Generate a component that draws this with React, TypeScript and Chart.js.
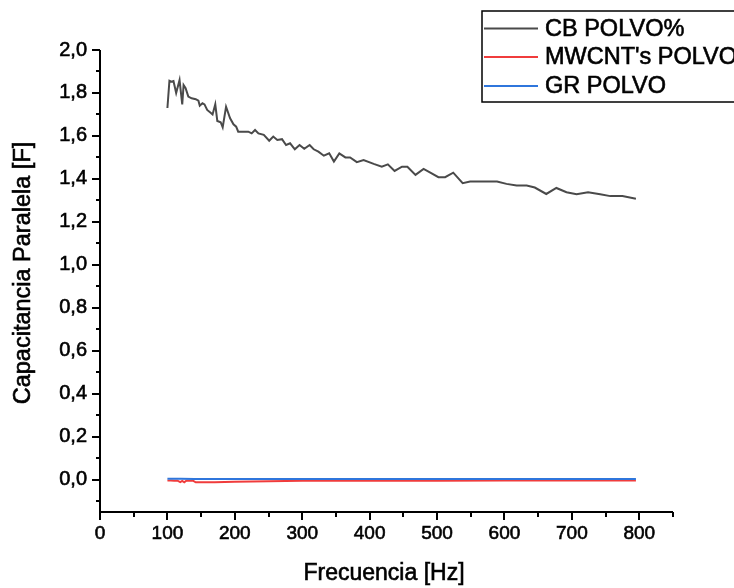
import React, { useEffect, useRef } from "react";
import { Chart, registerables } from "chart.js";

Chart.register(...registerables);

// ---- Data ----
const cbFreq = [
  100, 103, 106, 109, 113, 118, 122, 124, 127, 131, 136, 142, 146, 148, 152, 155, 159, 165, 167, 171,
  174, 179, 182, 187, 193, 198, 202, 205, 220, 225, 230, 235, 243, 251, 257, 263, 270, 276, 282, 289,
  296, 303, 311, 317, 324, 332, 340, 347, 355, 364, 371, 381, 391, 406, 418, 427, 437, 448, 456, 468,
  480, 490, 502, 512, 524, 538, 549, 589, 603, 618, 633, 645, 662, 677, 692, 707, 724, 742, 757, 775, 795,
];
const cbCap = [
  1.73, 1.857, 1.853, 1.856, 1.8, 1.86, 1.747, 1.837, 1.822, 1.783, 1.775, 1.771, 1.764, 1.741, 1.752, 1.747, 1.721, 1.706, 1.7, 1.747,
  1.67, 1.664, 1.64, 1.736, 1.682, 1.654, 1.643, 1.62, 1.62, 1.612, 1.628, 1.612, 1.605, 1.578, 1.597, 1.581, 1.585, 1.558, 1.566, 1.538,
  1.558, 1.54, 1.558, 1.538, 1.527, 1.508, 1.519, 1.481, 1.519, 1.5, 1.5, 1.478, 1.488, 1.47, 1.457, 1.468, 1.437, 1.457, 1.457, 1.419,
  1.447, 1.429, 1.408, 1.408, 1.429, 1.38, 1.388, 1.388, 1.377, 1.369, 1.369, 1.36, 1.33, 1.358, 1.338, 1.329, 1.338, 1.329, 1.32, 1.32, 1.308,
];

const mwFreq = [100, 105, 110, 115, 119, 122, 125, 128, 133, 138, 142, 150, 170, 200, 250, 300, 400, 500, 600, 700, 795];
const mwCap = [-0.004, -0.003, -0.004, -0.004, -0.011, -0.005, -0.012, -0.004, -0.004, -0.004, -0.012, -0.012, -0.011, -0.009, -0.007, -0.005, -0.004, -0.004, -0.003, -0.003, -0.003];

const grFreq = [100, 120, 140, 200, 300, 400, 500, 600, 700, 795];
const grCap = [0.005, 0.005, 0.004, 0.004, 0.003, 0.003, 0.003, 0.003, 0.003, 0.003];

const seriesNames = ["CB POLVO%", "MWCNT's POLVO", "GR POLVO"];
const seriesColors = ["#4a4a4a", "#f03c3c", "#2f76dc"];

const xTickValues = [0, 100, 200, 300, 400, 500, 600, 700, 800];
const yTickValues = [0, 0.2, 0.4, 0.6, 0.8, 1.0, 1.2, 1.4, 1.6, 1.8, 2.0];

const xTitle = "Frecuencia [Hz]";
const yTitle = "Capacitancia Paralela [F]";

const FONT = "'Liberation Sans', Arial, sans-serif";
const TEXT_STROKE = 0.6;

const toPoints = (xs: number[], ys: number[]) => xs.map((x, i) => ({ x, y: ys[i] }));

function heavyText(ctx: CanvasRenderingContext2D, s: string, x: number, y: number) {
  ctx.fillText(s, x, y);
  ctx.lineWidth = TEXT_STROKE;
  ctx.strokeStyle = "#000";
  ctx.strokeText(s, x, y);
}

const decorPlugin = {
  id: "decor",
  afterDraw(chart: any) {
    const ctx = chart.ctx as CanvasRenderingContext2D;
    const xs = chart.scales.x;
    const ys = chart.scales.y;
    const { left, right, top, bottom } = chart.chartArea;
    ctx.save();
    ctx.strokeStyle = "#000";
    ctx.fillStyle = "#000";
    // axis lines
    ctx.lineWidth = 2;
    ctx.beginPath();
    ctx.moveTo(left, top);
    ctx.lineTo(left, bottom + 1);
    ctx.moveTo(left - 1, bottom);
    ctx.lineTo(right, bottom);
    ctx.stroke();
    // y ticks
    for (let i = -1; i <= 20; i++) {
      const v = i / 10;
      const py = Math.round(ys.getPixelForValue(v));
      const len = i % 2 === 0 ? 8 : 4;
      ctx.beginPath();
      ctx.moveTo(left, py);
      ctx.lineTo(left - len, py);
      ctx.stroke();
    }
    // x ticks
    for (let v = 0; v <= 850; v += 50) {
      const px = Math.round(xs.getPixelForValue(v));
      const len = v % 100 === 0 ? 8 : 5;
      ctx.beginPath();
      ctx.moveTo(px, bottom);
      ctx.lineTo(px, bottom + len);
      ctx.stroke();
    }
    // titles
    ctx.textAlign = "center";
    ctx.textBaseline = "middle";
    ctx.font = `23px ${FONT}`;
    heavyText(ctx, xTitle, 384, 574);
    ctx.save();
    ctx.translate(24, 273);
    ctx.rotate(-Math.PI / 2);
    ctx.font = `23.5px ${FONT}`;
    heavyText(ctx, yTitle, 0, 0);
    ctx.restore();
    // legend
    ctx.lineWidth = 1.5;
    ctx.strokeStyle = "#000";
    ctx.strokeRect(482, 11, 300, 91);
    ctx.font = `23.5px ${FONT}`;
    ctx.textAlign = "left";
    ctx.textBaseline = "middle";
    const rowsY = [28.5, 57, 86];
    chart.data.datasets.forEach((ds: any, i: number) => {
      ctx.strokeStyle = ds.borderColor;
      ctx.lineWidth = 2;
      ctx.beginPath();
      ctx.moveTo(484, rowsY[i]);
      ctx.lineTo(538, rowsY[i]);
      ctx.stroke();
      ctx.fillStyle = "#000";
      heavyText(ctx, ds.label, 545, rowsY[i] + 1);
    });
    ctx.restore();
  },
};

export default function App() {
  const ref = useRef<HTMLCanvasElement | null>(null);
  useEffect(() => {
    if (!ref.current) return;
    const chart = new Chart(ref.current, {
      type: "line",
      data: {
        datasets: [
          { label: seriesNames[0], data: toPoints(cbFreq, cbCap), borderColor: seriesColors[0], borderWidth: 2, pointRadius: 0, tension: 0, order: 3 },
          { label: seriesNames[1], data: toPoints(mwFreq, mwCap), borderColor: seriesColors[1], borderWidth: 2, pointRadius: 0, tension: 0, order: 2 },
          { label: seriesNames[2], data: toPoints(grFreq, grCap), borderColor: seriesColors[2], borderWidth: 2, pointRadius: 0, tension: 0, order: 1 },
        ],
      },
      options: {
        animation: false,
        responsive: false,
        devicePixelRatio: 1,
        layout: { padding: { top: 50, right: 61, left: 0, bottom: 0 } },
        plugins: { legend: { display: false }, tooltip: { enabled: false }, title: { display: false } },
        scales: {
          x: {
            type: "linear",
            min: 0,
            max: 850,
            grid: { display: false, drawTicks: false },
            border: { display: false },
            afterBuildTicks: (s: any) => {
              s.ticks = xTickValues.map((v) => ({ value: v }));
            },
            afterFit: (s: any) => {
              s.height = 76;
            },
            ticks: {
              color: "#000",
              textStrokeColor: "#000",
              textStrokeWidth: TEXT_STROKE,
              padding: 10,
              maxRotation: 0,
              autoSkip: false,
              font: { family: FONT, size: 19 },
              callback: (v: any) => String(v),
            },
          },
          y: {
            type: "linear",
            min: -0.15,
            max: 2.0,
            grid: { display: false, drawTicks: false },
            border: { display: false },
            afterBuildTicks: (s: any) => {
              s.ticks = yTickValues.map((v) => ({ value: v }));
            },
            afterFit: (s: any) => {
              s.width = 100;
            },
            ticks: {
              color: "#000",
              textStrokeColor: "#000",
              textStrokeWidth: TEXT_STROKE,
              padding: 13,
              autoSkip: false,
              font: { family: FONT, size: 20 },
              callback: (v: any) => Number(v).toFixed(1).replace(".", ","),
            },
          },
        },
      },
      plugins: [decorPlugin],
    });
    return () => chart.destroy();
  }, []);
  return (
    <div style={{ position: "absolute", left: 0, top: 0, width: 734, height: 588, background: "#fff", overflow: "hidden" }}>
      <canvas ref={ref} width={734} height={588} style={{ display: "block" }} />
    </div>
  );
}
